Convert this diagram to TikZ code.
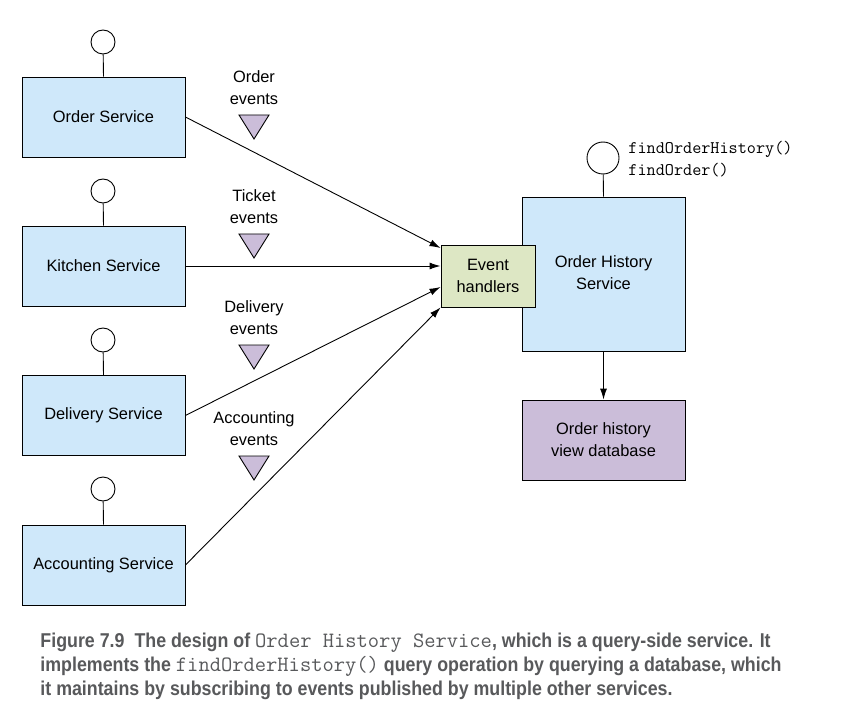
\documentclass[tikz,border=0pt]{standalone}
\usepackage{fontspec}
\setmainfont{Liberation Sans}
\newfontfamily\capfont[FakeStretch=0.89]{Liberation Sans}
\usetikzlibrary{arrows.meta}
\definecolor{svcblue}{HTML}{CFE8FA}
\definecolor{handlergreen}{HTML}{DDE7C4}
\definecolor{dbpurple}{HTML}{CBBDD9}
\definecolor{capgray}{HTML}{58595B}
\begin{document}
\begin{tikzpicture}[x=1pt, y=-1pt, line width=0.9pt,
    svc/.style={draw, fill=svcblue, minimum width=163pt, minimum height=80pt, inner sep=0pt, font=\fontsize{16.4}{22}\selectfont},
    handler/.style={draw, fill=handlergreen, minimum width=94pt, minimum height=62pt, inner sep=0pt, align=center, font=\fontsize{16.4}{22}\selectfont},
    port/.style={draw, fill=white, circle, inner sep=0pt},
    evlabel/.style={align=center, font=\fontsize{16.4}{22}\selectfont},
    evtri/.style={draw, fill=dbpurple},
    flow/.style={-{Latex[length=11pt,width=7pt]}}]
  \useasboundingbox (0,0) rectangle (854,714);

  % services on the left
  \node[svc] (order) at (103.5,117) {Order Service};
  \node[svc] (kitchen) at (103.5,266) {Kitchen Service};
  \node[svc] (delivery) at (103.5,415.5) {Delivery Service};
  \node[svc] (accounting) at (103.5,565) {Accounting Service};
  \foreach \s/\y in {order/42,kitchen/191,delivery/340,accounting/489} {
    \node[port, minimum size=24pt] (\s port) at (103,\y) {};
    \draw (\s port) -- (\s.north);
  }

  % query side
  \node[svc, minimum height=154pt] (history) at (603.5,274) {};
  \node[evlabel] at (603.5,273) {Order History\\Service};
  \node[handler] (handlers) at (488,276) {Event\\handlers};
  \node[port, minimum size=32pt] (historyport) at (603,158) {};
  \draw (historyport) -- (history.north);
  \node[anchor=north west, align=left, inner sep=0pt, font=\ttfamily\fontsize{17.7}{22}\selectfont] (ops) at (628,141) {findOrderHistory()\\findOrder()};
  \node[svc, fill=dbpurple, align=center] (db) at (603.5,440) {Order history\\view database};
  \draw[flow] (history) -- (db);

  % event flows
  \draw[flow] (order.east) -- (handlers.west |- 0,248);
  \draw[flow] (kitchen.east) -- (handlers.west |- 0,266);
  \draw[flow] (delivery.east) -- (handlers.west |- 0,287);
  \draw[flow] (accounting.east) -- (handlers.south west);

  % event channels
  \foreach \t/\y in {Order/88,Ticket/207,Delivery/318,Accounting/429} {
    \node[evlabel] at (254,\y) {\t\\events};
    \filldraw[evtri] (239,\y+27) -- (269,\y+27) -- (254,\y+51) -- cycle;
  }

  % caption
  \node[anchor=north west, align=left, inner sep=0pt, text=capgray, font=\capfont\bfseries\fontsize{20}{24}\selectfont] (caption) at (40,633)
    {Figure 7.9\hspace{10pt}The design of {\ttfamily\mdseries\fontsize{21.9}{24}\selectfont Order History Service}, which is a query-side service. It\\
     implements the {\ttfamily\mdseries\fontsize{21.9}{24}\selectfont findOrderHistory()} query operation by querying a database, which\\
     it maintains by subscribing to events published by multiple other services.};
\end{tikzpicture}
\end{document}
